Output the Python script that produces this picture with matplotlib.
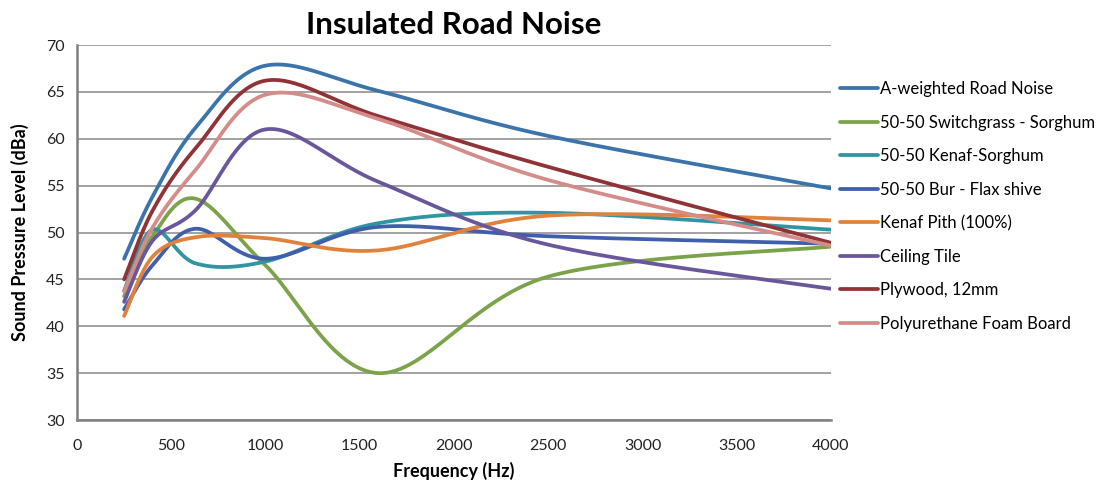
import numpy as np
import matplotlib
matplotlib.use("Agg")
import matplotlib.pyplot as plt

plt.rcParams['font.family'] = ['Lato', 'DejaVu Sans']

# Frequencies (Hz) of the measured points
freq = [250, 400, 630, 1000, 1600, 2500, 4000]

# Sound pressure level (dBa) per material
a_weighted = [47.2, 53.8, 61.2, 67.8, 65.1, 60.3, 54.7]
switchgrass = [43.2, 49.6, 53.6, 46.5, 35.0, 45.3, 48.5]
kenaf_sorghum = [43.8, 50.3, 46.7, 46.9, 51.0, 52.1, 50.3]
bur_flax = [41.8, 46.5, 50.4, 47.2, 50.6, 49.6, 48.8]
kenaf_pith = [41.1, 47.4, 49.5, 49.4, 48.1, 51.8, 51.3]
ceiling_tile = [42.6, 49.1, 52.4, 61.0, 55.4, 48.7, 44.0]
plywood = [45.0, 52.3, 59.0, 66.2, 62.4, 57.0, 48.9]
foam_board = [43.7, 50.5, 56.7, 64.7, 62.1, 55.6, 48.6]

labels = ['A-weighted Road Noise', '50-50 Switchgrass - Sorghum', '50-50 Kenaf-Sorghum',
          '50-50 Bur - Flax shive', 'Kenaf Pith (100%)', 'Ceiling Tile',
          'Plywood, 12mm', 'Polyurethane Foam Board']
colors = ['#3B74AA', '#7BA34A', '#2F95A3', '#3F5EAB', '#E0823C', '#6A569A',
          '#903236', '#D48C89']
series = [a_weighted, switchgrass, kenaf_sorghum, bur_flax, kenaf_pith,
          ceiling_tile, plywood, foam_board]


# Smoothed line like a spreadsheet chart (cubic Bezier / Catmull-Rom)
def smooth(x, y, n=60):
    p = np.column_stack([x, y]).astype(float)
    pts = []
    for i in range(len(p) - 1):
        p0 = p[i - 1] if i > 0 else p[i]
        p1, p2 = p[i], p[i + 1]
        p3 = p[i + 2] if i + 2 < len(p) else p[i + 1]
        c1 = p1 + (p2 - p0) / 6
        c2 = p2 - (p3 - p1) / 6
        t = np.linspace(0, 1, n)[:, None]
        seg = ((1 - t)**3 * p1 + 3 * (1 - t)**2 * t * c1
               + 3 * (1 - t) * t**2 * c2 + t**3 * p2)
        pts.append(seg if i == 0 else seg[1:])
    pts = np.vstack(pts)
    return pts[:, 0], pts[:, 1]


fig = plt.figure(figsize=(11.06, 4.86), dpi=100)
ax = fig.add_axes([77/1106, 1 - 420/486, (831 - 77)/1106, (420 - 45)/486])

for vals, lab, col in zip(series, labels, colors):
    sx, sy = smooth(freq, vals)
    ax.plot(sx, sy, color=col, lw=2.7, label=lab, solid_capstyle='round')

ax.set_xlim(0, 4000)
ax.set_ylim(30, 70)
ax.set_xticks(np.arange(0, 4001, 500))
ax.set_yticks(np.arange(30, 71, 5))
ax.grid(axis='y', color='#9A9A9A', lw=1.3)
ax.set_axisbelow(True)
for s in ['top', 'right']:
    ax.spines[s].set_visible(False)
for s in ['left', 'bottom']:
    ax.spines[s].set_color('#808080')
    ax.spines[s].set_linewidth(1.8)
ax.tick_params(axis='x', length=0, labelsize=11.5, pad=14, colors='#222222')
ax.tick_params(axis='y', length=0, labelsize=11.5, pad=9, colors='#222222')

ax.set_title('Insulated Road Noise', fontsize=22.5, fontweight='bold', pad=8)
ax.set_xlabel('Frequency (Hz)', fontsize=13, fontweight='bold', labelpad=6)
ax.set_ylabel('Sound Pressure Level (dBa)', fontsize=13, fontweight='bold', labelpad=12)

ax.legend(loc='upper left', bbox_to_anchor=(0.996, 0.935), frameon=False,
          fontsize=12, labelspacing=1.05, handlelength=2.3, handletextpad=0.15,
          borderaxespad=0.3)

fig.savefig('out.png', dpi=100)
